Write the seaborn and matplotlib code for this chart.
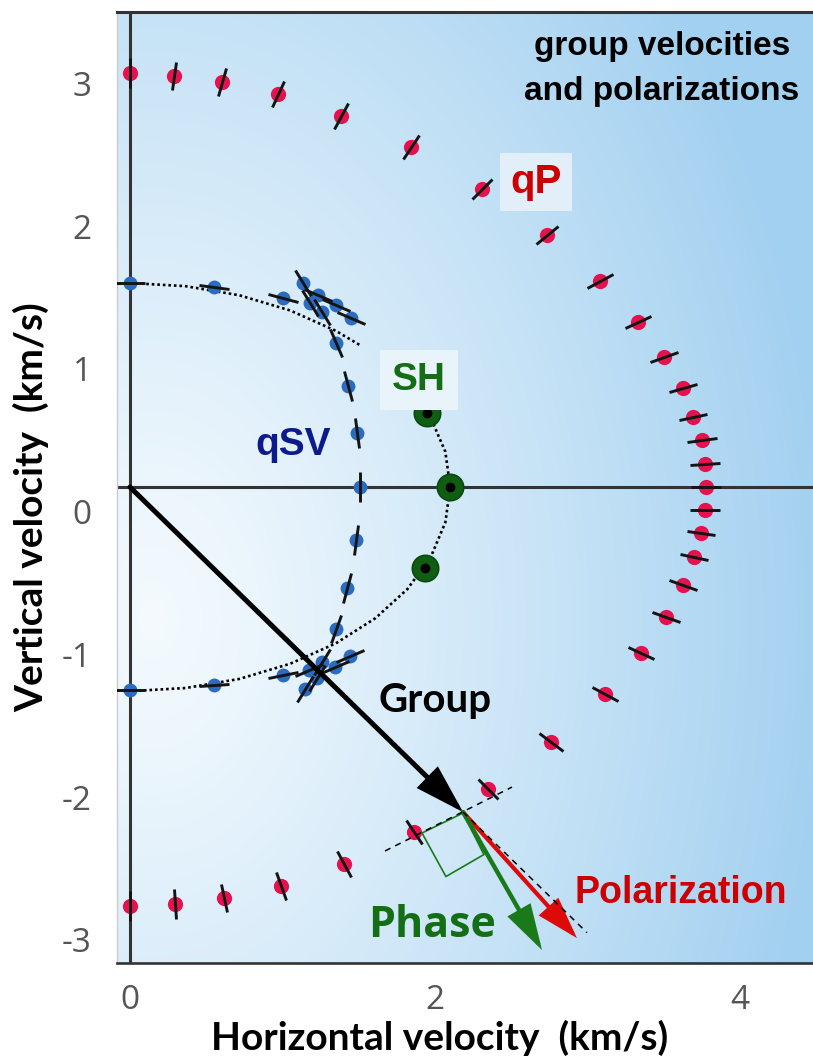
"""
Group velocities and polarizations of qP, qSV and SH waves
"""

import numpy as np
import matplotlib
matplotlib.use("Agg")
import matplotlib.pyplot as plt
import seaborn as sns
from matplotlib.markers import MarkerStyle
from matplotlib.transforms import Affine2D

# ----------------------------------------------------
# DATA (km/s)
# ----------------------------------------------------
# qP group velocity surface + polarization direction (deg, on screen)
qp_x = [0.000, 0.289, 0.603, 0.970, 1.384, 1.843, 2.308, 2.734, 3.082, 3.331,
        3.502, 3.626, 3.692, 3.751, 3.770, 3.777, 3.770, 3.744, 3.698, 3.626,
        3.515, 3.351, 3.115, 2.761, 2.348, 1.862, 1.403, 0.990, 0.616, 0.295, 0.000]
qp_y = [3.074, 3.053, 3.011, 2.926, 2.772, 2.555, 2.261, 1.938, 1.616, 1.329,
        1.083, 0.866, 0.663, 0.502, 0.334, 0.172, 0.011, -0.150, -0.318, -0.514,
        -0.739, -0.991, -1.278, -1.615, -1.944, -2.245, -2.470, -2.624, -2.708, -2.750, -2.764]
qp_pol = [90, 82, 76, 67, 62, 55, 45, 39, 28, 26,
          19, 17, 10, 6, 5, 0, -1, -7, -10, -18,
          -21, -24, -27, -36, -44, -55, -62, -69, -78, -85, -90]

# qSV group velocity surface (with cusps) + polarization direction
qsv_x = [0.000, 0.551, 1.003, 1.134, 1.233, 1.180, 1.259, 1.351, 1.449, 1.351,
         1.430, 1.489, 1.508, 1.482, 1.423, 1.351, 1.443, 1.344, 1.259, 1.226,
         1.174, 1.003, 1.148, 0.551, 0.000]
qsv_y = [1.602, 1.574, 1.497, 1.602, 1.518, 1.462, 1.399, 1.448, 1.357, 1.181,
         0.880, 0.551, 0.172, -0.199, -0.535, -0.823, -1.012, -1.089, -1.054, -1.166,
         -1.110, -1.145, -1.243, -1.215, -1.250]
qsv_pol = [0, -7, -16, -57, -25, -57, -57, -25, -25, -65,
           -73, -84, 90, 82, 75, 70, 22, 25, 57, 57,
           25, 12, 60, 3, 0]

# SH group velocities
sh_x = [1.948, 2.098, 1.934]
sh_y = [0.691, 0.172, -0.395]

# dotted SH wavefront (upper piece ends under the SH label)
sh_top_x = [-0.365, 0.000, 0.365, 0.718, 1.050, 1.350, 1.511]
sh_top_y = [1.580, 1.602, 1.580, 1.516, 1.410, 1.267, 1.165]
sh_low_x = [1.961, 2.068, 2.100, 2.068, 1.973, 1.819, 1.609, 1.350, 1.050,
            0.718, 0.365, 0.000, -0.365]
sh_low_y = [0.685, 0.420, 0.172, -0.076, -0.317, -0.543, -0.747, -0.923, -1.066,
            -1.172, -1.236, -1.258, -1.236]

# source position and the vectors of one qP ray
origin = (0.000, 0.172)
group_tip = (2.184, -2.105)
phase_tip = (2.702, -3.072)
polar_tip = (2.931, -2.988)
polar_dash_end = (2.997, -2.950)
tangent_x = [1.672, 2.505]
tangent_y = [-2.378, -1.930]
square_x = [2.184, 1.915, 2.072, 2.321, 2.184]
square_y = [-2.112, -2.252, -2.557, -2.403, -2.112]

xticks = [0, 2, 4]
yticks = [-3, -2, -1, 0, 1, 2, 3]
ytick_labels = ["-3", "-2", "-1", "0", "1", "2", "3"]

XLIM = (-0.085, 4.479)
YLIM = (-3.163, 3.501)


def draw_pol_ticks(ax, xs, ys, angles, length, z):
    # short black bar through each point, oriented along the polarization
    for x, y, a in zip(xs, ys, angles):
        m = MarkerStyle("_", transform=Affine2D().rotate_deg(a))
        ax.plot(x, y, marker=m, markersize=length, markeredgewidth=2.1,
                color="#141414", linestyle="none", zorder=z)


def draw_arrow(ax, start, end, color, lw, hl, hw, z):
    ax.annotate("", xy=end, xytext=start, zorder=z,
                arrowprops=dict(arrowstyle=f"-|>,head_length={hl},head_width={hw}",
                                color=color, lw=lw, shrinkA=0, shrinkB=0,
                                mutation_scale=10, joinstyle="miter"))


def draw_chart():
    sns.set_theme(style="white")
    plt.rcParams["font.family"] = ["Liberation Sans", "DejaVu Sans"]
    plt.rcParams["text.color"] = "black"
    plt.rcParams["axes.labelcolor"] = "black"

    fig = plt.figure(figsize=(8.13, 10.64), dpi=100)
    ax = fig.add_axes([0.1439, 0.0949, 0.8561, 0.8938])

    # ----------------------------------------------------
    # 1. BACKGROUND GRADIENT
    # ----------------------------------------------------
    u = np.linspace(0, 1, 300)
    v = np.linspace(0, 1, 400)
    U, V = np.meshgrid(u, v)
    t = np.clip(np.sqrt(((U - 0.05) / 0.98) ** 2 + ((V - 0.64) / 1.05) ** 2), 0, 1)
    c0 = np.array([244, 250, 254]) / 255
    c1 = np.array([162, 208, 240]) / 255
    img = c0 + (c1 - c0) * (t ** 1.15)[..., None]
    ax.imshow(img, extent=[XLIM[0], XLIM[1], YLIM[0], YLIM[1]], origin="upper",
              aspect="auto", zorder=0)

    # coordinate cross through the source
    ax.axvline(origin[0], color="#333333", lw=2.2, zorder=1)
    ax.axhline(origin[1], color="#333333", lw=2.2, zorder=1)

    # ----------------------------------------------------
    # 2. WAVE SURFACES
    # ----------------------------------------------------
    for cx, cy in [(sh_top_x, sh_top_y), (sh_low_x, sh_low_y)]:
        ax.plot(cx, cy, color="black", lw=1.9, linestyle=(0, (1, 1.1)), zorder=2)

    sns.scatterplot(x=qp_x, y=qp_y, color="#e5124e", s=120, linewidth=0, ax=ax, zorder=3)
    draw_pol_ticks(ax, qp_x, qp_y, qp_pol, 21, 4)

    sns.scatterplot(x=qsv_x, y=qsv_y, color="#2b6cc0", s=100, linewidth=0, ax=ax, zorder=3)
    draw_pol_ticks(ax, qsv_x, qsv_y, qsv_pol, 22, 4)

    sns.scatterplot(x=sh_x, y=sh_y, color="#0f5e14", s=360, edgecolor="#0a4a0e",
                    linewidth=1.2, ax=ax, zorder=3)
    sns.scatterplot(x=sh_x, y=sh_y, color="black", s=50, linewidth=0, ax=ax, zorder=4)

    # ----------------------------------------------------
    # 3. GROUP / PHASE / POLARIZATION VECTORS
    # ----------------------------------------------------
    draw_arrow(ax, origin, group_tip, "black", 3.6, 2.8, 0.85, 5)
    draw_arrow(ax, group_tip, polar_tip, "#dd0a0a", 3.0, 2.4, 0.75, 5)
    draw_arrow(ax, group_tip, phase_tip, "#1a7a1a", 3.2, 2.6, 0.75, 6)
    ax.plot([group_tip[0], polar_dash_end[0]], [group_tip[1], polar_dash_end[1]],
            color="black", lw=1.1, linestyle=(0, (4, 3.5)), zorder=7)
    ax.plot(tangent_x, tangent_y, color="black", lw=1.1, linestyle=(0, (4, 3.5)), zorder=7)
    ax.plot(square_x, square_y, color="#1a7a1a", lw=1.2, zorder=6)

    # ----------------------------------------------------
    # 4. LABELS
    # ----------------------------------------------------
    narrow = ["Liberation Sans Narrow", "Liberation Sans", "DejaVu Sans"]
    ax.text(0.783, 0.9548, "group velocities", transform=ax.transAxes, ha="center",
            va="baseline", fontsize=24, fontweight="bold", family=narrow, zorder=8)
    ax.text(0.783, 0.9075, "and polarizations", transform=ax.transAxes, ha="center",
            va="baseline", fontsize=24, fontweight="bold", family=narrow, zorder=8)

    ax.text(2.662, 2.233, "qP", color="#cc0000", fontsize=29, fontweight="bold",
            ha="center", va="baseline", zorder=8,
            bbox=dict(boxstyle="square,pad=0.25", fc="#e3eff8", ec="none"))
    ax.text(1.895, 0.852, "SH", color="#146e16", fontsize=28, fontweight="bold",
            ha="center", va="baseline", zorder=8,
            bbox=dict(boxstyle="square,pad=0.3", fc="#e8f3fa", ec="none"))
    ax.text(1.069, 0.397, "qSV", color="#0b1a8c", fontsize=28, fontweight="bold",
            ha="center", va="baseline", zorder=8)
    ax.text(2.000, -1.404, "Group", color="black", fontsize=29, fontweight="bold",
            family=["Lato", "DejaVu Sans"], ha="center", va="baseline", zorder=8)
    ax.text(3.613, -2.743, "Polarization", color="#cc0000", fontsize=27,
            fontweight="bold", ha="center", va="baseline", zorder=8)
    ax.text(1.980, -2.981, "Phase", color="#146e16", fontsize=31, fontweight="bold",
            family=["Open Sans", "DejaVu Sans"], ha="center", va="baseline", zorder=8)

    # ----------------------------------------------------
    # 5. AXES STYLING
    # ----------------------------------------------------
    ax.set_xlim(*XLIM)
    ax.set_ylim(*YLIM)
    ax.set_xticks(xticks)
    ax.set_xticklabels([str(v) for v in xticks])
    ax.set_yticks(yticks)
    ax.set_yticklabels(ytick_labels)
    for lab in ax.get_xticklabels() + ax.get_yticklabels():
        lab.set_family(["Open Sans", "DejaVu Sans"])
    ax.tick_params(axis="x", direction="in", length=13, width=1.8, color="#333333",
                   pad=15, labelsize=24, labelcolor="#555555")
    ax.tick_params(axis="y", length=0, pad=18, labelsize=24, labelcolor="#555555")

    ax.spines["top"].set_color("#333333")
    ax.spines["top"].set_linewidth(2.2)
    ax.spines["bottom"].set_color("#333333")
    ax.spines["bottom"].set_linewidth(1.9)
    ax.spines["left"].set_color("#cccccc")
    ax.spines["left"].set_linewidth(1.0)
    ax.spines["right"].set_visible(False)

    label_font = dict(fontsize=28, fontweight="bold", color="black",
                      family=["Lato", "DejaVu Sans"])
    ax.set_xlabel("Horizontal velocity  (km/s)", ha="center", va="center", **label_font)
    ax.xaxis.set_label_coords(0.464, -0.0789)
    ax.set_ylabel("Vertical velocity  (km/s)", ha="center", va="center", **label_font)
    ax.yaxis.set_label_coords(-0.1236, 0.4795)

    fig.savefig("out.png", dpi=100)
    plt.close(fig)


if __name__ == "__main__":
    draw_chart()
